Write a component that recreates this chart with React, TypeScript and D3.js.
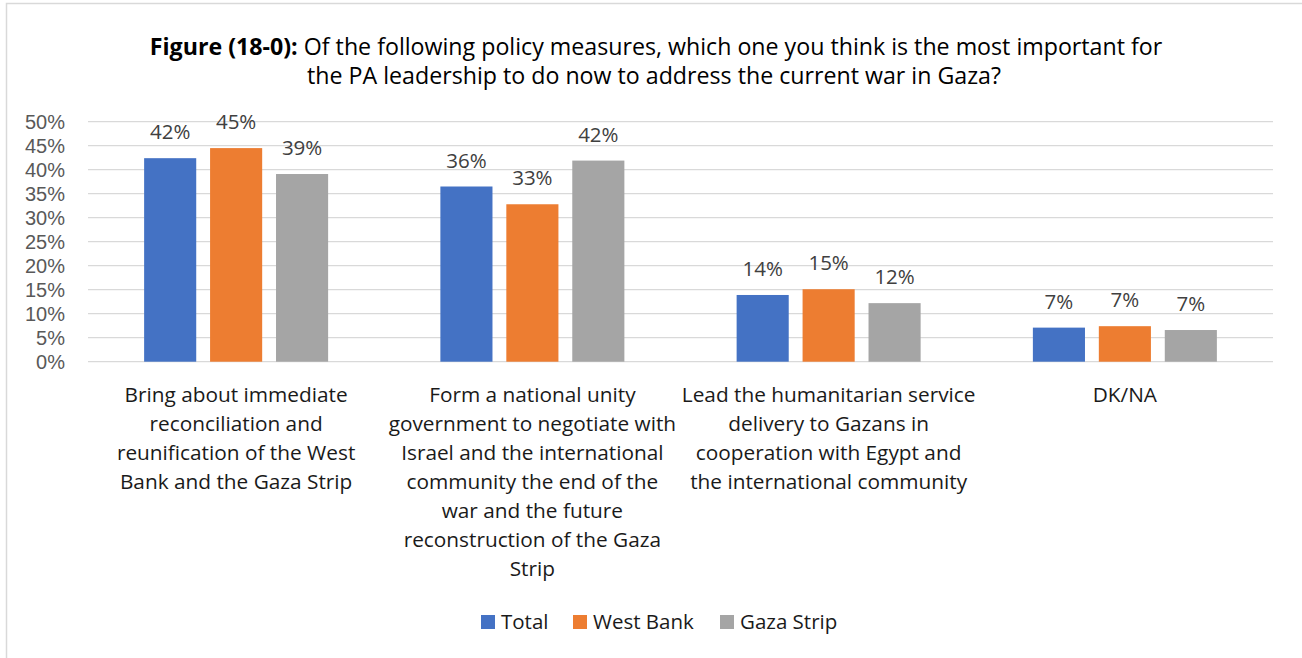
import React from "react";
import * as d3 from "d3";

const categories: string[][] = [
  ["Bring about immediate", "reconciliation and", "reunification of the West", "Bank and the Gaza Strip"],
  ["Form a national unity", "government to negotiate with", "Israel and the international", "community the end of the", "war and the future", "reconstruction of the Gaza", "Strip"],
  ["Lead the humanitarian service", "delivery to Gazans in", "cooperation with Egypt and", "the international community"],
  ["DK/NA"],
];
const seriesNames = ["Total", "West Bank", "Gaza Strip"];
const seriesColors = ["#4472C4", "#ED7D31", "#A5A5A5"];
const totalValues = [42.4, 36.5, 13.9, 7.1];
const westBankValues = [44.5, 32.8, 15.1, 7.4];
const gazaValues = [39.1, 41.9, 12.2, 6.6];
const valueLabels = [
  ["42%", "36%", "14%", "7%"],
  ["45%", "33%", "15%", "7%"],
  ["39%", "42%", "12%", "7%"],
];
const yTicks = [0, 5, 10, 15, 20, 25, 30, 35, 40, 45, 50];

const W = 1302;
const H = 658;
const FONT = "'Open Sans', 'Segoe UI', sans-serif";

export default function App() {
  const series = [totalValues, westBankValues, gazaValues];
  const left = 88;
  const right = 1273;
  const top = 121.7;
  const bottom = 361.7;
  const x0 = d3.scaleBand<number>().domain(d3.range(categories.length)).range([left, right]).paddingInner(0).paddingOuter(0);
  const groupWidth = 184;
  const x1 = d3.scaleBand<number>().domain(d3.range(series.length)).range([0, groupWidth]).paddingInner(0.21).paddingOuter(0);
  const y = d3.scaleLinear().domain([0, 50]).range([bottom, top]);

  return (
    <svg width={W} height={H} style={{ position: "absolute", left: 0, top: 0, background: "#fff" }} fontFamily={FONT}>
      <rect x={6.5} y={3.5} width={W + 20} height={H + 20} fill="#fff" stroke="#D9D9D9" strokeWidth={1.5} />
      <text x={656} y={55} textAnchor="middle" fontSize={23.2} fill="#000">
        <tspan fontWeight="bold">Figure (18-0):</tspan>
        <tspan> Of the following policy measures, which one you think is the most important for</tspan>
      </text>
      <text x={654} y={84} textAnchor="middle" fontSize={23.2} fill="#000">
        the PA leadership to do now to address the current war in Gaza?
      </text>
      {yTicks.map((t) => (
        <g key={t}>
          <line x1={left} x2={right} y1={y(t)} y2={y(t)} stroke="#D9D9D9" strokeWidth={1.3} />
          <text x={65} y={y(t)} dy="0.36em" textAnchor="end" fontSize={20} fill="#595959" fontFamily="'Liberation Sans', Arial, sans-serif">
            {t}%
          </text>
        </g>
      ))}
      {categories.map((_, ci) => {
        const gx = (x0(ci) as number) + x0.bandwidth() / 2 - groupWidth / 2;
        return (
          <g key={ci}>
            {series.map((s, si) => {
              const bx = gx + (x1(si) as number);
              const by = y(s[ci]);
              return (
                <g key={si}>
                  <rect x={bx} y={by} width={x1.bandwidth()} height={bottom - by} fill={seriesColors[si]} />
                  <text x={bx + x1.bandwidth() / 2} y={by - 19} textAnchor="middle" fontSize={20.5} fill="#404040">
                    {valueLabels[si][ci]}
                  </text>
                </g>
              );
            })}
          </g>
        );
      })}
      {categories.map((lines, ci) => (
        <text key={ci} textAnchor="middle" fontSize={20.8} fill="#1a1a1a">
          {lines.map((ln, li) => (
            <tspan key={li} x={(x0(ci) as number) + x0.bandwidth() / 2} y={402 + li * 29}>
              {ln}
            </tspan>
          ))}
        </text>
      ))}
      {seriesNames.map((n, i) => {
        const lx = [481, 573, 720][i];
        return (
          <g key={n}>
            <rect x={lx} y={615} width={14} height={14} fill={seriesColors[i]} />
            <text x={lx + 20} y={629} fontSize={20.5} fill="#1a1a1a">
              {n}
            </text>
          </g>
        );
      })}
    </svg>
  );
}
